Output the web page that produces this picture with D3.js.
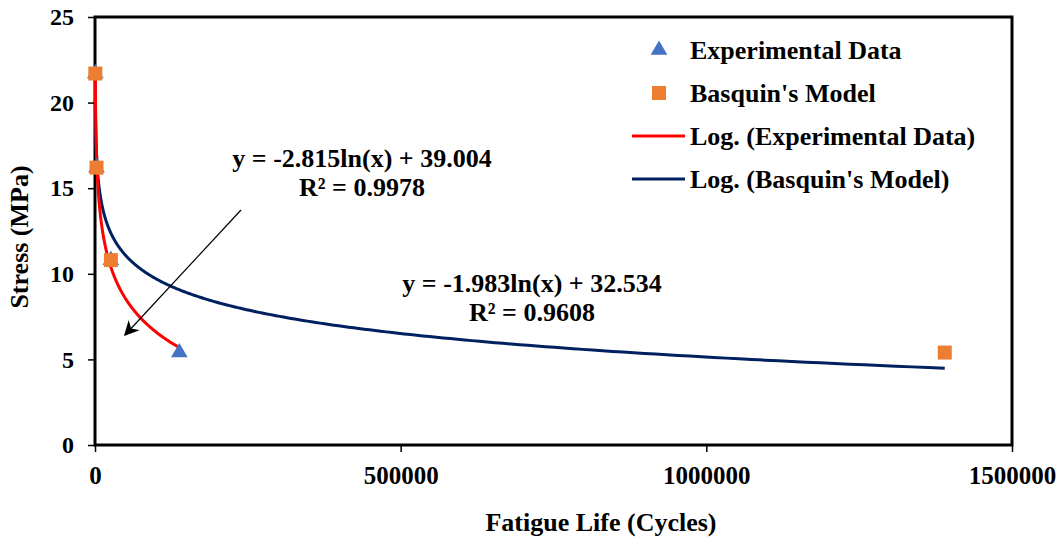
<!DOCTYPE html>
<html>
<head>
<meta charset="utf-8">
<script src="https://cdn.jsdelivr.net/npm/d3@7"></script>
<style>
  body { margin: 0; background: #fff; }
  text { font-family: "Liberation Serif", "Times New Roman", serif; font-weight: bold; fill: #000; }
</style>
</head>
<body>
<div id="chart"></div>
<script>
// data
var stressLevels = [21.7, 16.2, 10.8, 5.4]
var expCycles = [500, 2500, 26000, 138000]
var basquinCycles = [500, 2500, 26000, 1390000]
// trendline coefficients (y = a ln(x) + b)
var expFit = { a: -2.815, b: 39.004, r2: "0.9978" }
var basquinFit = { a: -1.983, b: 32.534, r2: "0.9608" }
var xTicks = [0, 500000, 1000000, 1500000]
var yTicks = [0, 5, 10, 15, 20, 25]

var width = 1060, height = 538
var margin = { left: 95, right: 48, top: 17, bottom: 93 }

var svg = d3.select("#chart").append("svg")
  .attr("width", width)
  .attr("height", height)

var x = d3.scaleLinear().domain([0, 1500000]).range([margin.left, width - margin.right])
var y = d3.scaleLinear().domain([0, 25]).range([height - margin.bottom, margin.top])

// frame
svg.append("rect")
  .attr("x", x(0)).attr("y", y(25))
  .attr("width", x(1500000) - x(0)).attr("height", y(0) - y(25))
  .attr("fill", "none").attr("stroke", "#000").attr("stroke-width", 3)

// axes
var xAxis = svg.append("g")
  .attr("transform", "translate(0," + y(0) + ")")
  .call(d3.axisBottom(x).tickValues(xTicks).tickFormat(d3.format("d")).tickSize(7).tickPadding(14))
xAxis.select(".domain").remove()
xAxis.selectAll("line").attr("stroke", "#000").attr("stroke-width", 1.5)
xAxis.selectAll("text").attr("font-size", 25).style("font-family", "Liberation Serif").style("font-weight", "bold")

var yAxis = svg.append("g")
  .attr("transform", "translate(" + x(0) + ",0)")
  .call(d3.axisLeft(y).tickValues(yTicks).tickSize(7).tickPadding(14))
yAxis.select(".domain").remove()
yAxis.selectAll("line").attr("stroke", "#000").attr("stroke-width", 1.5)
yAxis.selectAll("text").attr("font-size", 24).style("font-family", "Liberation Serif").style("font-weight", "bold")

// axis titles
svg.append("text")
  .attr("x", 601).attr("y", 531)
  .attr("text-anchor", "middle").attr("font-size", 26)
  .text("Fatigue Life (Cycles)")
svg.append("text")
  .attr("transform", "translate(28,237) rotate(-90)")
  .attr("text-anchor", "middle").attr("font-size", 26)
  .text("Stress (MPa)")

// trendlines
function fitPoints(fit, xs) {
  var lo = d3.min(xs), hi = d3.max(xs)
  var pts = []
  var n = 400
  for (var i = 0; i <= n; i++) {
    // log spacing so the steep start stays smooth
    var xv = Math.exp(Math.log(lo) + (Math.log(hi) - Math.log(lo)) * i / n)
    pts.push([xv, fit.a * Math.log(xv) + fit.b])
  }
  return pts
}
var line = d3.line().x(function (d) { return x(d[0]) }).y(function (d) { return y(d[1]) })

svg.append("path")
  .attr("d", line(fitPoints(basquinFit, basquinCycles)))
  .attr("fill", "none").attr("stroke", "#002060").attr("stroke-width", 3)
svg.append("path")
  .attr("d", line(fitPoints(expFit, expCycles)))
  .attr("fill", "none").attr("stroke", "#FF0000").attr("stroke-width", 3)

// markers
var tri = d3.symbol().type(d3.symbolTriangle).size(120)
svg.selectAll(".exp")
  .data(expCycles)
  .enter()
  .append("path")
  .attr("class", "exp")
  .attr("d", tri)
  .attr("transform", function (d, i) { return "translate(" + x(d) + "," + y(stressLevels[i]) + ")" })
  .attr("fill", "#4472C4")

svg.selectAll(".bas")
  .data(basquinCycles)
  .enter()
  .append("rect")
  .attr("class", "bas")
  .attr("x", function (d) { return x(d) - 7 })
  .attr("y", function (d, i) { return y(stressLevels[i]) - 7 })
  .attr("width", 14).attr("height", 14)
  .attr("fill", "#ED7D31")

// equations
function eqText(fit) {
  return "y = " + fit.a.toFixed(3) + "ln(x) + " + fit.b.toFixed(3)
}
var eqs = [
  { fit: expFit, cx: 362, cy: 167 },
  { fit: basquinFit, cx: 532, cy: 292 }
]
eqs.forEach(function (e) {
  svg.append("text").attr("x", e.cx).attr("y", e.cy)
    .attr("text-anchor", "middle").attr("font-size", 26)
    .text(eqText(e.fit))
  svg.append("text").attr("x", e.cx).attr("y", e.cy + 29)
    .attr("text-anchor", "middle").attr("font-size", 26)
    .text("R² = " + e.fit.r2)
})

// arrow
svg.append("defs").append("marker")
  .attr("id", "arrowhead")
  .attr("viewBox", "0 0 10 10")
  .attr("refX", 9).attr("refY", 5)
  .attr("markerWidth", 15).attr("markerHeight", 15)
  .attr("markerUnits", "userSpaceOnUse")
  .attr("orient", "auto")
  .append("path")
  .attr("d", "M0,0 L10,5 L0,10 L3,5 z")
  .attr("fill", "#000")
svg.append("line")
  .attr("x1", 241).attr("y1", 210)
  .attr("x2", 125).attr("y2", 335)
  .attr("stroke", "#000").attr("stroke-width", 1.2)
  .attr("marker-end", "url(#arrowhead)")

// legend
var legendItems = [
  { label: "Experimental Data", kind: "tri" },
  { label: "Basquin's Model", kind: "sq" },
  { label: "Log. (Experimental Data)", kind: "line", color: "#FF0000" },
  { label: "Log. (Basquin's Model)", kind: "line", color: "#002060" }
]
var legend = svg.append("g").attr("transform", "translate(632,50)")
legendItems.forEach(function (item, i) {
  var g = legend.append("g").attr("transform", "translate(0," + i * 43 + ")")
  if (item.kind === "tri") {
    g.append("path").attr("d", tri).attr("transform", "translate(27,0)").attr("fill", "#4472C4")
  } else if (item.kind === "sq") {
    g.append("rect").attr("x", 20).attr("y", -7).attr("width", 14).attr("height", 14).attr("fill", "#ED7D31")
  } else {
    g.append("line").attr("x1", 0).attr("x2", 53).attr("y1", 0).attr("y2", 0)
      .attr("stroke", item.color).attr("stroke-width", 3)
  }
  g.append("text").attr("x", 58).attr("y", 9).attr("font-size", 26).text(item.label)
})
</script>
</body>
</html>
